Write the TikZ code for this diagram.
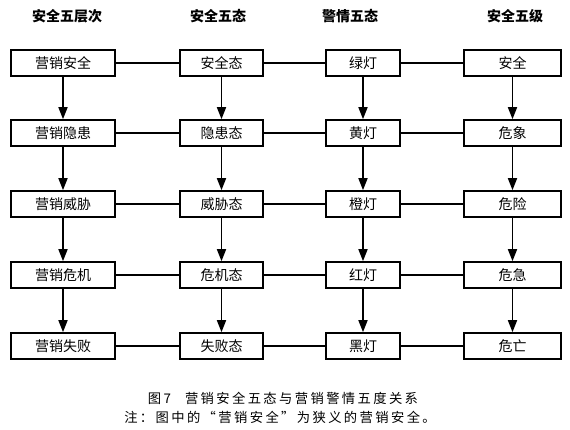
\documentclass[tikz,border=0pt]{standalone}
\usepackage{fontspec}
\setmainfont{Noto Sans CJK SC}
\usepackage{tikz}
\usetikzlibrary{arrows.meta, positioning}

\begin{document}
\begin{tikzpicture}[x=1pt, y=-1pt,
  every node/.style={font=\fontsize{14pt}{16pt}\selectfont},
  cell/.style={draw, line width=1.6pt, minimum height=26pt, inner sep=0pt},
  head/.style={font=\fontsize{14pt}{16pt}\selectfont\bfseries},
  down/.style={-{Triangle[length=12pt, width=9pt]}, line width=1.6pt},
  link/.style={line width=1.3pt},
  note/.style={font=\fontsize{13.3pt}{15pt}\selectfont\addfontfeature{LetterSpace=18}}
]
  \useasboundingbox (0,0) rectangle (570,430);

  % column heads
  \node[head] (h1) at (67,16)  {安全五层次};
  \node[head] (h2) at (218,16) {安全五态};
  \node[head] (h3) at (350,16) {警情五态};
  \node[head] (h4) at (515,16) {安全五级};

  % layers
  \node[cell, minimum width=104pt] (l1) at (63,63)  {营销安全};
  \node[cell, minimum width=104pt] (l2) at (63,133) {营销隐患};
  \node[cell, minimum width=104pt] (l3) at (63,204) {营销威胁};
  \node[cell, minimum width=104pt] (l4) at (63,275) {营销危机};
  \node[cell, minimum width=104pt] (l5) at (63,346) {营销失败};

  % states
  \node[cell, minimum width=83pt] (s1) at (221.5,63)  {安全态};
  \node[cell, minimum width=83pt] (s2) at (221.5,133) {隐患态};
  \node[cell, minimum width=83pt] (s3) at (221.5,204) {威胁态};
  \node[cell, minimum width=83pt] (s4) at (221.5,275) {危机态};
  \node[cell, minimum width=83pt] (s5) at (221.5,346) {失败态};

  % warning lights
  \node[cell, minimum width=74pt] (w1) at (363,63)  {绿灯};
  \node[cell, minimum width=74pt] (w2) at (363,133) {黄灯};
  \node[cell, minimum width=74pt] (w3) at (363,204) {橙灯};
  \node[cell, minimum width=74pt] (w4) at (363,275) {红灯};
  \node[cell, minimum width=74pt] (w5) at (363,346) {黑灯};

  % grades
  \node[cell, minimum width=97pt] (g1) at (512.5,63)  {安全};
  \node[cell, minimum width=97pt] (g2) at (512.5,133) {危象};
  \node[cell, minimum width=97pt] (g3) at (512.5,204) {危险};
  \node[cell, minimum width=97pt] (g4) at (512.5,275) {危急};
  \node[cell, minimum width=97pt] (g5) at (512.5,346) {危亡};

  \draw[down] (l1) -- (l2);
  \draw[down] (l2) -- (l3);
  \draw[down] (l3) -- (l4);
  \draw[down] (l4) -- (l5);
  \draw[down] (s1) -- (s2);
  \draw[down] (s2) -- (s3);
  \draw[down] (s3) -- (s4);
  \draw[down] (s4) -- (s5);
  \draw[down] (w1) -- (w2);
  \draw[down] (w2) -- (w3);
  \draw[down] (w3) -- (w4);
  \draw[down] (w4) -- (w5);
  \draw[down] (g1) -- (g2);
  \draw[down] (g2) -- (g3);
  \draw[down] (g3) -- (g4);
  \draw[down] (g4) -- (g5);

  \draw[link] (l1) -- (s1) -- (w1) -- (g1);
  \draw[link] (l2) -- (s2) -- (w2) -- (g2);
  \draw[link] (l3) -- (s3) -- (w3) -- (g3);
  \draw[link] (l4) -- (s4) -- (w4) -- (g4);
  \draw[link] (l5) -- (s5) -- (w5) -- (g5);

  % caption
  \node[note] (cap) at (283,398) {图7\hspace{14pt}营销安全五态与营销警情五度关系};
  \node[note] (remark) at (280,417) {注：图中的“营销安全”为狭义的营销安全。};
\end{tikzpicture}
\end{document}
